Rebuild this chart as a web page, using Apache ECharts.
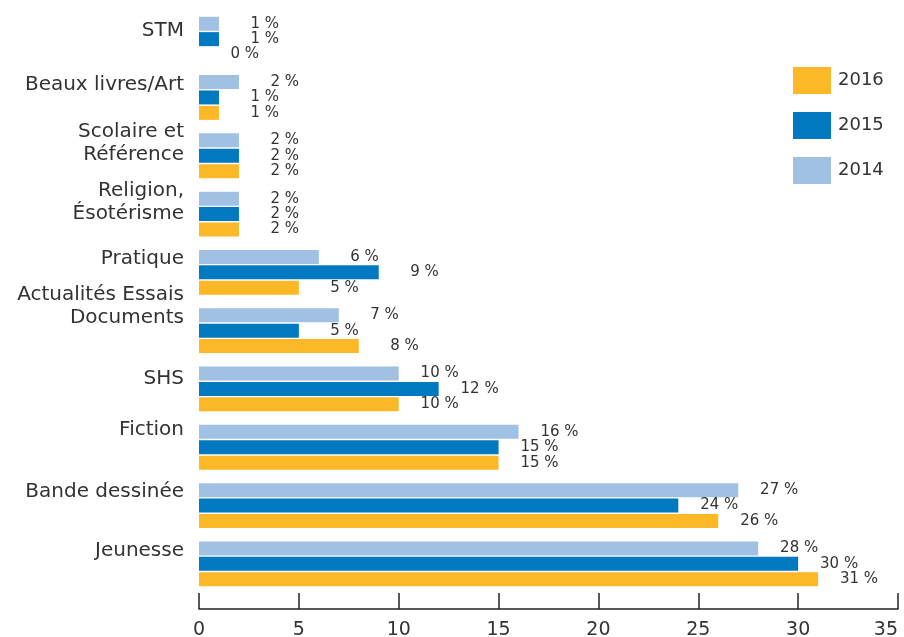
<!DOCTYPE html>
<html>
<head>
<meta charset="utf-8">
<script src="https://cdn.jsdelivr.net/npm/echarts@6/dist/echarts.min.js"></script>
<style>html,body{margin:0;padding:0;background:#fff}#c{width:904px;height:637px}</style>
</head>
<body>
<div id="c"></div>
<script>
const categories = ['Jeunesse', 'Bande dessinée', 'Fiction', 'SHS', 'Actualités Essais\nDocuments', 'Pratique', 'Religion,\nÉsotérisme', 'Scolaire et\nRéférence', 'Beaux livres/Art', 'STM'];
const values2016 = [31, 26, 15, 10, 8, 5, 2, 2, 1, 0];
const values2015 = [30, 24, 15, 12, 5, 9, 2, 2, 1, 1];
const values2014 = [28, 27, 16, 10, 7, 6, 2, 2, 2, 1];
const seriesNames = ['2016', '2015', '2014'];
const xTicks = [0, 5, 10, 15, 20, 25, 30, 35];

// styling (label vertical shifts in px, upward)
const labelShift = [13, 14, 17, 10, 24, 14, 12, 12, 13, 8];
const colors = ['#FDB827', '#0079C1', '#A0C0E4'];
const FONT = 'DejaVu Sans';
const TXT = '#333333';

const rich = { t: { fontFamily: FONT, fontSize: 20, color: TXT, lineHeight: 23 } };
labelShift.forEach((s, i) => {
  rich['s' + i] = { fontSize: 1, lineHeight: 2 * s, height: 2 * s };
});

const chart = echarts.init(document.getElementById('c'), null, { renderer: 'canvas' });
const mk = (name, data, color) => ({
  name, type: 'bar', data,
  barWidth: 14, barGap: '10%',
  itemStyle: { color },
  label: {
    show: true, position: 'right', distance: 60, align: 'right',
    formatter: p => p.value + ' %',
    fontFamily: FONT, fontSize: 15, color: TXT
  }
});
chart.setOption({
  animation: false,
  textStyle: { fontFamily: FONT },
  grid: { left: 199, right: 6, top: 10, bottom: 44, containLabel: false, outerBoundsMode: 'none' },
  legend: {
    orient: 'vertical', left: 793, top: 67, padding: 0,
    data: seriesNames,
    itemWidth: 38, itemHeight: 27, itemGap: 18,
    icon: 'rect',
    textStyle: { fontFamily: FONT, fontSize: 18, color: TXT, padding: [0, 0, 0, 2] }
  },
  xAxis: {
    type: 'value', min: xTicks[0], max: xTicks[xTicks.length - 1], interval: 5,
    offset: 16,
    axisLine: { show: true, lineStyle: { color: '#222', width: 1.5 } },
    axisTick: { show: true, inside: true, length: 16, lineStyle: { color: '#222', width: 1.5 } },
    splitLine: { show: false },
    axisLabel: { fontFamily: FONT, fontSize: 19, color: TXT, margin: 12, alignMaxLabel: 'right' }
  },
  yAxis: {
    type: 'category', data: categories,
    axisLine: { show: false }, axisTick: { show: false },
    axisLabel: {
      margin: 15, align: 'right',
      formatter: (v, i) => v.split('\n').map(l => '{t|' + l + '}').join('\n') + '\n{s' + i + '| }',
      rich
    }
  },
  series: [
    mk(seriesNames[2], values2014, colors[2]),
    mk(seriesNames[1], values2015, colors[1]),
    mk(seriesNames[0], values2016, colors[0])
  ]
});
</script>
</body>
</html>
